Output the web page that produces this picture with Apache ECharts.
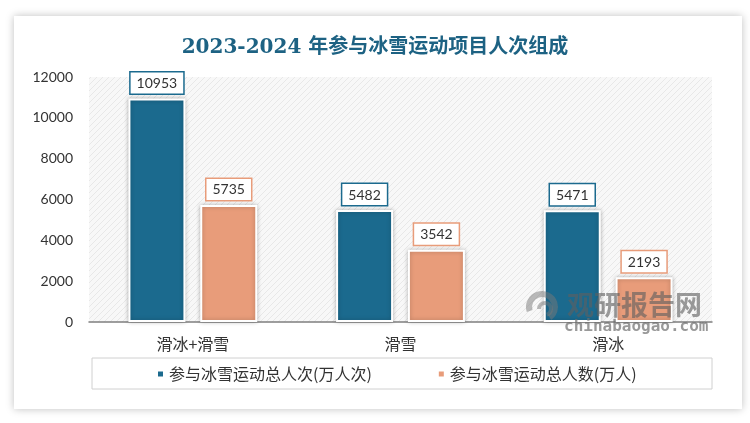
<!DOCTYPE html>
<html><head><meta charset="utf-8">
<script src="https://cdn.jsdelivr.net/npm/echarts@6/dist/echarts.min.js"></script>
<style>html,body{margin:0;padding:0;background:#fff}#c{width:750px;height:423px}</style>
</head><body><div id="c"></div>
<script>
const categories = ['滑冰+滑雪', '滑雪', '滑冰'];
const seriesNames = ['参与冰雪运动总人次(万人次)', '参与冰雪运动总人数(万人)'];
const visits = [10953, 5482, 5471];
const people = [5735, 3542, 2193];
const yTicks = [0, 2000, 4000, 6000, 8000, 10000, 12000];

const pc = document.createElement('canvas');
pc.width = 6; pc.height = 6;
const g = pc.getContext('2d');
g.fillStyle = '#f8f8f8'; g.fillRect(0, 0, 6, 6);
g.strokeStyle = '#e8e8e8'; g.lineWidth = 1;
g.beginPath(); g.moveTo(0, 6); g.lineTo(6, 0); g.stroke();
g.beginPath(); g.moveTo(-3, 3); g.lineTo(3, -3); g.stroke();
g.beginPath(); g.moveTo(3, 9); g.lineTo(9, 3); g.stroke();

const colors = ['#1b6a8e', '#e89c7a'];
const chart = echarts.init(document.getElementById('c'));
function lbl(c) {
  return {show: true, position: 'top', distance: 5, color: '#333', fontSize: 14,
    fontFamily: 'Lato, "Noto Sans", sans-serif', backgroundColor: '#fff',
    borderColor: c, borderWidth: 1.5, padding: [4, 6, 3, 6]};
}
const wm = 'rgba(95,95,95,0.62)';
chart.setOption({
  animation: false,
  graphic: [
    {type: 'rect', z: -10, shape: {x: 14, y: 16, width: 728, height: 393},
      style: {fill: '#fff', shadowBlur: 8, shadowColor: 'rgba(0,0,0,0.25)'}},
    {type: 'rect', z: -5, shape: {x: 89, y: 77, width: 623, height: 245},
      style: {fill: {image: pc, repeat: 'repeat'}}},
    {type: 'rect', z: 1, shape: {x: 92, y: 358, width: 620, height: 31},
      style: {fill: 'none', stroke: '#d0d0d0', lineWidth: 1}},
    {type: 'text', z: 20, x: 567, y: 291,
      style: {text: '观研报告网', fontSize: 27, fontWeight: 'bold', fill: wm,
        fontFamily: '"Noto Sans CJK SC", sans-serif'}},
    {type: 'text', z: 20, x: 564, y: 319,
      style: {text: 'chinabaogao.com', fontSize: 16, fontWeight: 'bold', fill: 'rgba(110,110,110,0.7)',
        fontFamily: '"DejaVu Sans Mono", monospace'}},
    {type: 'arc', z: 20, shape: {cx: 542, cy: 307, r: 13, startAngle: Math.PI * 0.9, endAngle: Math.PI * 2.3},
      style: {fill: 'none', stroke: 'rgba(120,120,120,0.5)', lineWidth: 6}},
    {type: 'arc', z: 20, shape: {cx: 545, cy: 309, r: 6, startAngle: Math.PI * 1.0, endAngle: Math.PI * 2.4},
      style: {fill: 'none', stroke: 'rgba(120,120,120,0.5)', lineWidth: 4}}
  ],
  title: {text: '2023-2024 年参与冰雪运动项目人次组成', left: 'center', top: 33,
    textStyle: {fontSize: 20, fontWeight: 'bold', color: '#1d6283',
      fontFamily: '"DejaVu Serif", "Noto Sans CJK SC", serif'}},
  legend: {data: seriesNames, left: 156, top: 366, itemWidth: 7, itemHeight: 7,
    icon: 'rect', itemGap: 65, padding: 0,
    textStyle: {fontSize: 16, color: '#333', fontFamily: '"Noto Sans CJK SC", sans-serif'}},
  grid: {left: 89, right: 38, top: 77, bottom: 101, containLabel: false},
  xAxis: {type: 'category', data: categories,
    axisLine: {lineStyle: {color: '#7f7f7f', width: 1.5}}, axisTick: {show: false},
    axisLabel: {fontSize: 16, color: '#333', margin: 14, fontFamily: '"Noto Sans CJK SC", sans-serif'}},
  yAxis: {type: 'value', min: yTicks[0], max: yTicks[yTicks.length - 1], interval: 2000,
    axisLine: {show: false}, axisTick: {show: false}, splitLine: {show: false},
    axisLabel: {fontSize: 14, color: '#333', margin: 16, formatter: v => String(v),
      fontFamily: 'Lato, "Noto Sans", sans-serif'}},
  series: [
    {name: seriesNames[0], type: 'bar', data: visits, barWidth: 57, barGap: '26%',
      itemStyle: {color: colors[0], borderColor: '#fff', borderWidth: 2,
        shadowBlur: 4, shadowColor: 'rgba(0,0,0,0.25)'}, label: lbl(colors[0])},
    {name: seriesNames[1], type: 'bar', data: people, barWidth: 57,
      itemStyle: {color: colors[1], borderColor: '#fff', borderWidth: 2,
        shadowBlur: 4, shadowColor: 'rgba(0,0,0,0.25)'}, label: lbl(colors[1])}
  ]
});
</script></body></html>
